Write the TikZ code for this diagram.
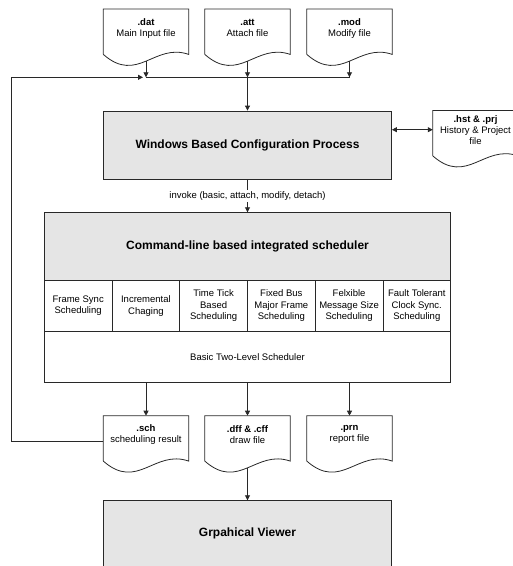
\documentclass[tikz,border=0pt]{standalone}
\usepackage{fontspec}
\setmainfont{Liberation Sans}
\usetikzlibrary{arrows.meta, positioning, calc}

\definecolor{boxgray}{RGB}{229,229,229}
\definecolor{linegray}{RGB}{40,40,40}

\tikzset{
  line/.style={draw=linegray, line width=0.8pt},
  arr/.style={line, -{Triangle[length=5pt, width=5pt]}},
  dblarr/.style={line, {Triangle[length=5pt, width=5pt]}-{Triangle[length=5pt, width=5pt]}},
  small/.style={font=\fontsize{9.5}{11}\selectfont},
  procbox/.style={line, fill=boxgray, rectangle, inner sep=0pt, font=\fontsize{12}{14}\selectfont\bfseries},
  subbox/.style={line, fill=white, rectangle, inner sep=0pt, align=center, font=\fontsize{9.5}{11.6}\selectfont},
  filebox/.style={rectangle, anchor=north, minimum width=85pt, minimum height=38pt, inner sep=0pt, align=center, small},
}

% outline of a file symbol round node #1, outlet at (#1-out)
\newcommand{\filesym}[1]{%
  \coordinate (#1l) at ([yshift=-7pt]#1.south west);
  \coordinate (#1r) at ([yshift=-7pt]#1.south east);
  \draw[line] (#1l) -- (#1.north west) -- (#1.north east) -- (#1r)
    .. controls ($(#1r)!0.4!(#1l)+(0,12)$) and ($(#1r)!0.6!(#1l)+(0,-30)$) .. (#1l);
  \coordinate (#1-out) at ([yshift=-13.5pt]#1.south);
}

\begin{document}
\begin{tikzpicture}[x=1pt, y=1pt]
    \useasboundingbox (0,0) rectangle (513,-566);

    % Input files
    \node[filebox] (dat) at (146,-9) {\textbf{.dat}\\Main Input file};
    \node[filebox] (att) at (247.5,-9) {\textbf{.att}\\Attach file};
    \node[filebox] (mod) at (349.5,-9) {\textbf{.mod}\\Modify file};
    \foreach \f in {dat,att,mod} {\filesym{\f}}

    % Configuration
    \node[procbox, minimum width=288pt, minimum height=68pt] (config) at (247.5,-145) {Windows Based Configuration Process};
    \node[filebox] (hst) at (475.5,-110.5) {\textbf{.hst \& .prj}\\History \& Project\\file};
    \filesym{hst}

    % Scheduler
    \node[procbox, minimum width=406.4pt, minimum height=68pt] (sched) at (247.5,-246.7) {Command-line based integrated scheduler};
    \foreach \t [count=\i] in {{Frame Sync\\Scheduling}, {Incremental\\Chaging}, {Time Tick\\Based\\Scheduling},
        {Fixed Bus\\Major Frame\\Scheduling}, {Felxible\\Message Size\\Scheduling}, {Fault Tolerant\\Clock Sync.\\Scheduling}} {
        \node[subbox, minimum width=67.73pt, minimum height=50.3pt] (sub\i) at ({44.3+(\i-0.5)*67.73},-305.85) {\t};
    }
    \node[subbox, minimum width=406.4pt, minimum height=51.3pt] (basic) at (247.5,-356.65) {Basic Two-Level Scheduler};

    % Output files
    \node[filebox] (sch) at (146,-415.7) {\textbf{.sch}\\scheduling result};
    \node[filebox] (dff) at (247.5,-415.7) {\textbf{.dff \& .cff}\\draw file};
    \node[filebox] (prn) at (349.5,-415.7) {\textbf{.prn}\\report file};
    \foreach \f in {sch,dff,prn} {\filesym{\f}}

    % Viewer
    \node[procbox, minimum width=288pt, minimum height=66.3pt] (viewer) at (247.5,-533.85) {Grpahical Viewer};

    % Connectors
    \coordinate (bus) at (11,-77.3);
    \draw[line] (bus -| dat-out) -- (bus -| mod-out);
    \foreach \f in {dat,att,mod} \draw[arr] (\f-out) -- (bus -| \f-out);
    \draw[arr] (bus -| att-out) -- (config.north);
    \draw[dblarr] (hst.west -| config.east) -- (hst.west);
    \draw[arr] (config.south) -- node[fill=white, small, inner sep=1.5pt] (invoke) {invoke (basic, attach, modify, detach)} (sched.north);
    \foreach \f in {sch,dff,prn} \draw[arr] (\f.north |- basic.south) -- (\f.north);
    \draw[arr] (dff-out) -- (viewer.north);
    \draw[arr] ([yshift=-6pt]sch.west) -| (bus) -- ($(bus -| dat-out)+(-3,0)$);
\end{tikzpicture}
\end{document}
